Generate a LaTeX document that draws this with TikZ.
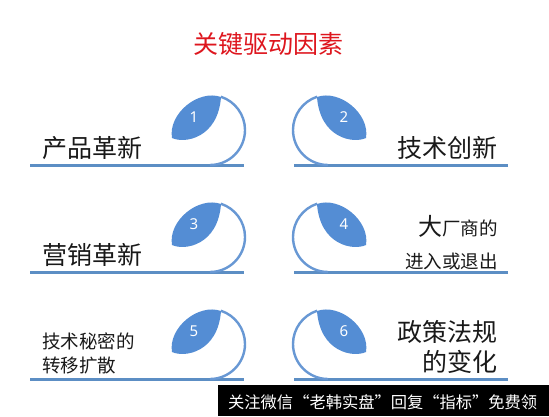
\documentclass[tikz,border=0pt]{standalone}
\usepackage{fontspec}
\setmainfont{Noto Sans CJK SC}
\newfontfamily\numfont{Noto Sans}
\definecolor{leafblue}{RGB}{84,141,212}
\definecolor{ringblue}{RGB}{104,152,212}
\definecolor{lineblue}{RGB}{92,142,196}
\definecolor{titlered}{RGB}{222,22,30}
\definecolor{textgray}{RGB}{25,25,25}
\tikzset{
  leaf/.style={fill=leafblue, draw=none},
  ring/.style={draw=ringblue, line width=2.4pt},
  baseline/.style={draw=lineblue, line width=3pt},
  numtext/.style={text=white, font=\numfont\fontsize{15}{15}\selectfont, inner sep=0pt},
  bigtext/.style={text=textgray, font=\fontsize{25}{27}\selectfont, inner sep=0pt},
  smalltext/.style={text=textgray, font=\fontsize{18.5}{20}\selectfont, inner sep=0pt},
}
\newcommand\keyunit[4]{%
  \begin{scope}[shift={(#1,#2)}, xscale=#3]
    \draw[baseline] (-180,-35) -- (34,-35);
    \draw[ring] (0,-35) arc[start angle=-90, end angle=72, radius=35];
    \fill[leaf] (11,33) .. controls (-12,41) and (-42,16) .. (-38,-8)
                 .. controls (-25,-14) and (8,-8) .. (11,33) -- cycle;
  \end{scope}
  \node[numtext] (n#4) at ({#1-16*#3},{#2+13}) {#4};
}
\begin{document}
\begin{tikzpicture}[x=1pt,y=1pt]
\useasboundingbox (0,0) rectangle (549,416);
\fill[white] (0,0) rectangle (549,416);

\node[text=titlered, font=\fontsize{25}{27}\selectfont, inner sep=0pt] (title) at (268,372) {关键驱动因素};

\keyunit{210}{286}{1}{1}
\keyunit{328}{286}{-1}{2}
\keyunit{210}{179}{1}{3}
\keyunit{328}{179}{-1}{4}
\keyunit{210}{72}{1}{5}
\keyunit{328}{72}{-1}{6}

\node[bigtext, anchor=west] (t1) at (42,268) {产品革新};
\node[bigtext, anchor=east] (t2) at (498,268) {技术创新};
\node[bigtext, anchor=west] (t3) at (42,161) {营销革新};
\node[smalltext, anchor=east] (t4a) at (498,190) {{\fontsize{24}{24}\selectfont 大}厂商的};
\node[smalltext, anchor=east] (t4b) at (498,155) {进入或退出};
\node[smalltext, anchor=west] (t5a) at (42,75) {技术秘密的};
\node[smalltext, anchor=west] (t5b) at (42,50) {转移扩散};
\node[bigtext, anchor=east] (t6a) at (498,84) {政策法规};
\node[bigtext, anchor=east] (t6b) at (498,54) {的变化};

\fill[black] (218,0) rectangle (549,31);
\node[text=white, inner sep=0pt, anchor=west] (wm) at (228,14) {\resizebox{309pt}{!}{\fontsize{16}{16}\selectfont 关注微信“老韩实盘”回复“指标”免费领}};
\end{tikzpicture}
\end{document}
